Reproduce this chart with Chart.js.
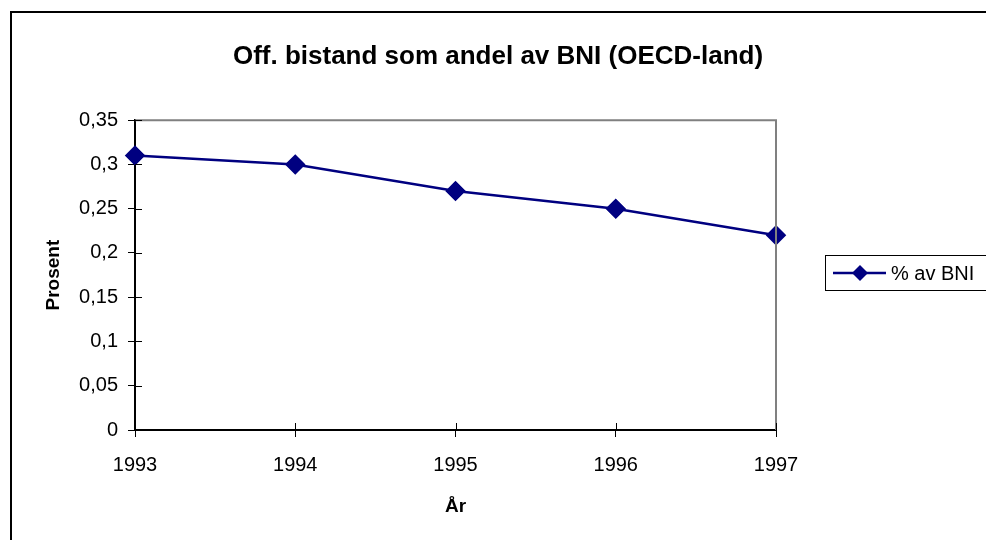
<!DOCTYPE html>
<html>
<head>
<meta charset="utf-8">
<script src="https://cdn.jsdelivr.net/npm/chart.js"></script>
<style>
    html, body { margin: 0; padding: 0; background: #fff; }
    .wrap { position: relative; width: 986px; height: 540px; overflow: hidden; }
    .frame {
        position: absolute; left: 10px; top: 11px;
        width: 1200px; height: 800px;
        border-left: 2px solid #000; border-top: 2px solid #000;
    }
    #c { position: absolute; left: 0; top: 0; }
</style>
</head>
<body>
<div class="wrap">
    <div class="frame"></div>
    <canvas id="c" width="986" height="540"></canvas>
</div>
<script>
const years = ["1993", "1994", "1995", "1996", "1997"];
const shareOfGNI = [0.31, 0.30, 0.27, 0.25, 0.22];
const yTicks = [0, 0.05, 0.1, 0.15, 0.2, 0.25, 0.3, 0.35];

const NAVY = "#000080";
const FONT = "'Liberation Sans', Arial, sans-serif";

// plot border, inward tick stubs and the boxed legend
const excelBits = {
    id: "excelBits",
    afterDraw(chart) {
        const ctx = chart.ctx;
        const a = chart.chartArea;
        const x = chart.scales.x, y = chart.scales.y;
        ctx.save();
        ctx.strokeStyle = "#808080";
        ctx.lineWidth = 2;
        ctx.beginPath();
        ctx.moveTo(a.left, a.top);
        ctx.lineTo(a.right, a.top);
        ctx.lineTo(a.right, a.bottom);
        ctx.stroke();

        ctx.strokeStyle = "#000";
        ctx.lineWidth = 1;
        ctx.beginPath();
        y.ticks.forEach((t, i) => {
            const py = Math.round(y.getPixelForTick(i)) + 0.5;
            ctx.moveTo(a.left, py);
            ctx.lineTo(a.left + 7, py);
        });
        x.ticks.forEach((t, i) => {
            const px = Math.round(x.getPixelForTick(i)) + 0.5;
            ctx.moveTo(px, a.bottom);
            ctx.lineTo(px, a.bottom - 7);
        });
        ctx.stroke();

        // legend
        const ds = chart.data.datasets[0];
        const lx = 825, ly = 255, lw = 170, lh = 35;
        ctx.strokeStyle = "#000";
        ctx.lineWidth = 1;
        ctx.strokeRect(lx + 0.5, ly + 0.5, lw, lh);
        const cy = ly + lh / 2 + 0.5;
        ctx.strokeStyle = NAVY;
        ctx.lineWidth = 2.5;
        ctx.beginPath();
        ctx.moveTo(lx + 8, cy);
        ctx.lineTo(lx + 61, cy);
        ctx.stroke();
        ctx.fillStyle = NAVY;
        ctx.beginPath();
        ctx.moveTo(lx + 35, cy - 8);
        ctx.lineTo(lx + 43, cy);
        ctx.lineTo(lx + 35, cy + 8);
        ctx.lineTo(lx + 27, cy);
        ctx.closePath();
        ctx.fill();
        ctx.fillStyle = "#000";
        ctx.font = "20px " + FONT;
        ctx.textBaseline = "middle";
        ctx.fillText(ds.label, lx + 66, cy + 1);
        ctx.restore();
    }
};

new Chart(document.getElementById("c"), {
    type: "line",
    data: {
        labels: years,
        datasets: [{
            label: "% av BNI",
            data: shareOfGNI,
            borderColor: NAVY,
            backgroundColor: NAVY,
            borderWidth: 2.5,
            pointStyle: "rectRot",
            pointRadius: 8.5,
            pointHoverRadius: 8.5,
            tension: 0,
            yAxisID: "y"
        }]
    },
    options: {
        responsive: false,
        animation: false,
        layout: { padding: { left: 10, right: 0, top: 0, bottom: 0 } },
        plugins: {
            legend: { display: false },
            tooltip: { enabled: false },
            title: {
                display: true,
                text: "Off. bistand som andel av BNI (OECD-land)",
                color: "#000",
                font: { family: FONT, size: 26, weight: "bold" },
                padding: { top: 41, bottom: 48 }
            }
        },
        scales: {
            x: {
                offset: false,
                grid: { drawOnChartArea: false, color: "#000", tickLength: 7 },
                border: { color: "#000", width: 2 },
                ticks: { color: "#000", font: { family: FONT, size: 20 }, padding: 16, maxRotation: 0 },
                title: {
                    display: true, text: "År", color: "#000",
                    font: { family: FONT, size: 19, weight: "bold" },
                    padding: { bottom: 22 }
                },
                afterFit(s) { s.height = 110; }
            },
            y: {
                min: 0, max: 0.35,
                afterBuildTicks(s) { s.ticks = yTicks.map(v => ({ value: v })); },
                grid: { drawOnChartArea: false, color: "#000", tickLength: 7 },
                border: { color: "#000", width: 2 },
                ticks: {
                    color: "#000", font: { family: FONT, size: 20 }, padding: 10,
                    callback: v => String(v).replace(".", ",")
                },
                title: {
                    display: true, text: "Prosent", color: "#000",
                    font: { family: FONT, size: 19, weight: "bold" },
                    padding: { top: 32 }
                },
                afterFit(s) { s.width = 125; }
            },
            // empty right-hand scale that keeps room for the legend
            side: {
                position: "right",
                grid: { display: false },
                border: { display: false },
                ticks: { display: false },
                afterFit(s) { s.width = 210; }
            }
        }
    },
    plugins: [excelBits]
});
</script>
</body>
</html>
